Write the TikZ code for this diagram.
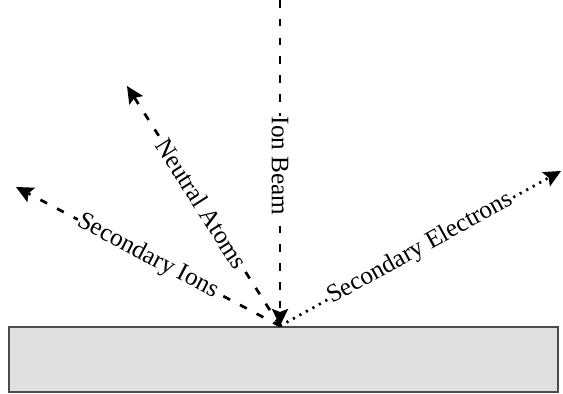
\documentclass[tikz,border=0pt]{standalone}
\usepackage{fontspec}
\setmainfont{Liberation Serif}
\usetikzlibrary{arrows.meta}
\begin{document}
\begin{tikzpicture}[x=0.5pt,y=-0.5pt,
  tip/.style={-{Stealth[length=8.5pt,width=8pt,inset=1.5pt]}},
  ray/.style={line width=1.35pt, dash pattern=on 3.8pt off 5.6pt, tip},
  dotray/.style={line width=1.35pt, dash pattern=on 1.1pt off 2.6pt, tip},
  lbl/.style={font=\fontsize{12.6}{14}\selectfont, fill=white, inner sep=0.6pt},
  target/.style={draw=black!70, fill=black!12, line width=0.8pt}]
\useasboundingbox (0,0) rectangle (563,394);
\node[target, minimum width=274.5pt, minimum height=32.5pt, inner sep=0pt, anchor=north west] (T) at (8,326) {};
\coordinate (O) at (280,326);
\coordinate (IB) at (280,0);
\coordinate (NA) at (127,86);
\coordinate (SI) at (16,187);
\coordinate (SE) at (561,171);
\draw[ray] (IB) -- node[lbl, pos=0.51, rotate=-90] {Ion Beam} (O);
\draw[ray] (O) -- node[lbl, pos=0.51, sloped] {Neutral Atoms} (NA);
\draw[ray] (O) -- node[lbl, pos=0.5, sloped] {Secondary Ions} (SI);
\draw[dotray] (O) -- node[lbl, pos=0.5, sloped] {Secondary Electrons} (SE);
\end{tikzpicture}
\end{document}
